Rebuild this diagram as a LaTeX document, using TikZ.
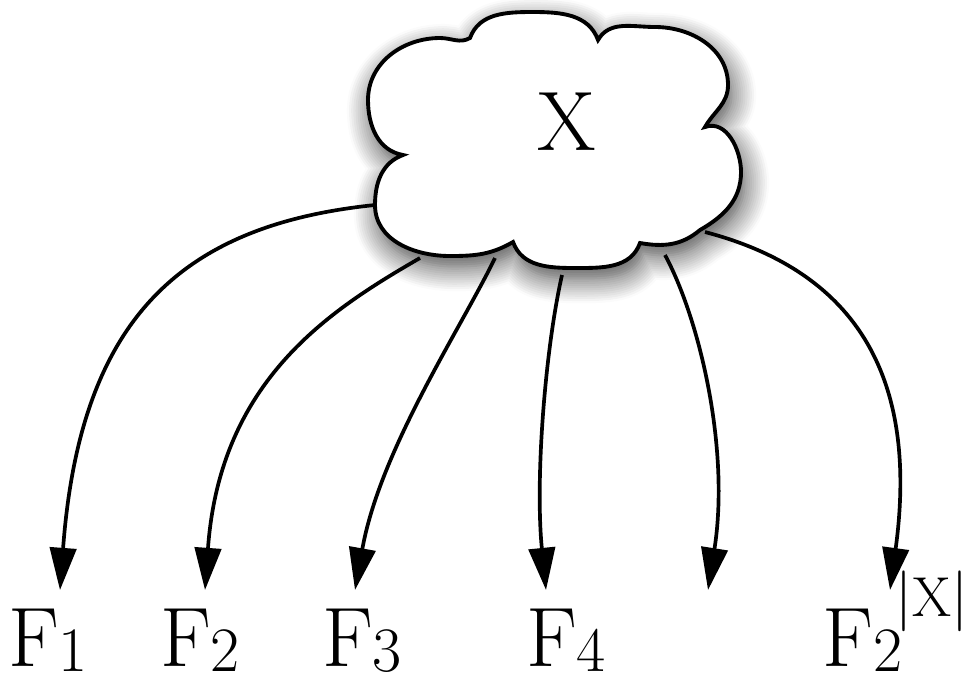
\documentclass[tikz,border=0pt]{standalone}
\usetikzlibrary{arrows.meta, shadows.blur}

\begin{document}
\begin{tikzpicture}[x=0.01cm, y=-0.01cm]
  \tikzstyle{cloudline} = [line width=1.1pt, fill=white, blur shadow={shadow xshift=1pt, shadow yshift=-3pt, shadow blur radius=7pt, shadow blur steps=12, shadow opacity=75}]
  \tikzstyle{arr} = [line width=1.05pt, -{Triangle[length=12pt, width=7.5pt, fill=black]}]
  \tikzstyle{lbl} = [anchor=base, inner sep=0pt, font=\fontsize{24}{28}\selectfont]
  \newcommand{\sub}[1]{{\fontsize{18}{20}\selectfont\raisebox{-1.5pt}{#1}}}
  \useasboundingbox (0,0) rectangle (971,681);
  % cloud
  \begin{scope}
  \path[cloudline, draw] (470,38) to[out=70, in=180] (533,12) to[out=0, in=110] (598,40)
    to[out=60, in=180] (655,27) to[out=0, in=90] (728,85) to[out=-90, in=60] (705,127)
    to[out=20, in=90] (741,172) to[out=-90, in=30] (700,230)
    to[out=-140, in=-10] (640,243)
    to[out=-110, in=0] (575,268) to[out=180, in=-70] (513,242)
    to[out=-150, in=0] (450,256) to[out=180, in=-90] (375,205) to[out=90, in=-160] (403,155)
    to[out=170, in=-90] (368,100) to[out=90, in=180] (440,38) to[out=0, in=-150] cycle;
  \end{scope}
  \node[inner sep=0pt, font=\fontsize{24}{28}\selectfont] (x) at (567,122) {X};
  % start points on the cloud
  \coordinate (s1) at (375,205);
  \coordinate (s2) at (420,258);
  \coordinate (s3) at (495,258);
  \coordinate (s4) at (562,275);
  \coordinate (s5) at (665,255);
  \coordinate (s6) at (705,232);
  % arrow tips
  \coordinate (t1) at (60,590);
  \coordinate (t2) at (205,590);
  \coordinate (t3) at (355,590);
  \coordinate (t4) at (546,590);
  \coordinate (t5) at (708,590);
  \coordinate (t6) at (890,590);
  % labels
  \node[lbl] (f1) at (48,666) {F\sub{1}};
  \node[lbl] (f2) at (200,666) {F\sub{2}};
  \node[lbl] (f3) at (362,666) {F\sub{3}};
  \node[lbl] (f4) at (566,666) {F\sub{4}};
  \node[lbl, anchor=base west] (f6) at (822,666) {F\sub{2}\kern-2pt{\fontsize{16}{18}\selectfont\raisebox{14pt}{$|$X$|$}}};
  % arrows
  \draw[arr] (s1) .. controls (180,225) and (80,320) .. (t1);
  \draw[arr] (s2) .. controls (330,310) and (220,380) .. (t2);
  \draw[arr] (s3) .. controls (460,330) and (380,450) .. (t3);
  \draw[arr] (s4) .. controls (545,350) and (535,480) .. (t4);
  \draw[arr] (s5) .. controls (700,320) and (730,450) .. (t5);
  \draw[arr] (s6) .. controls (850,270) and (920,370) .. (t6);
\end{tikzpicture}
\end{document}
